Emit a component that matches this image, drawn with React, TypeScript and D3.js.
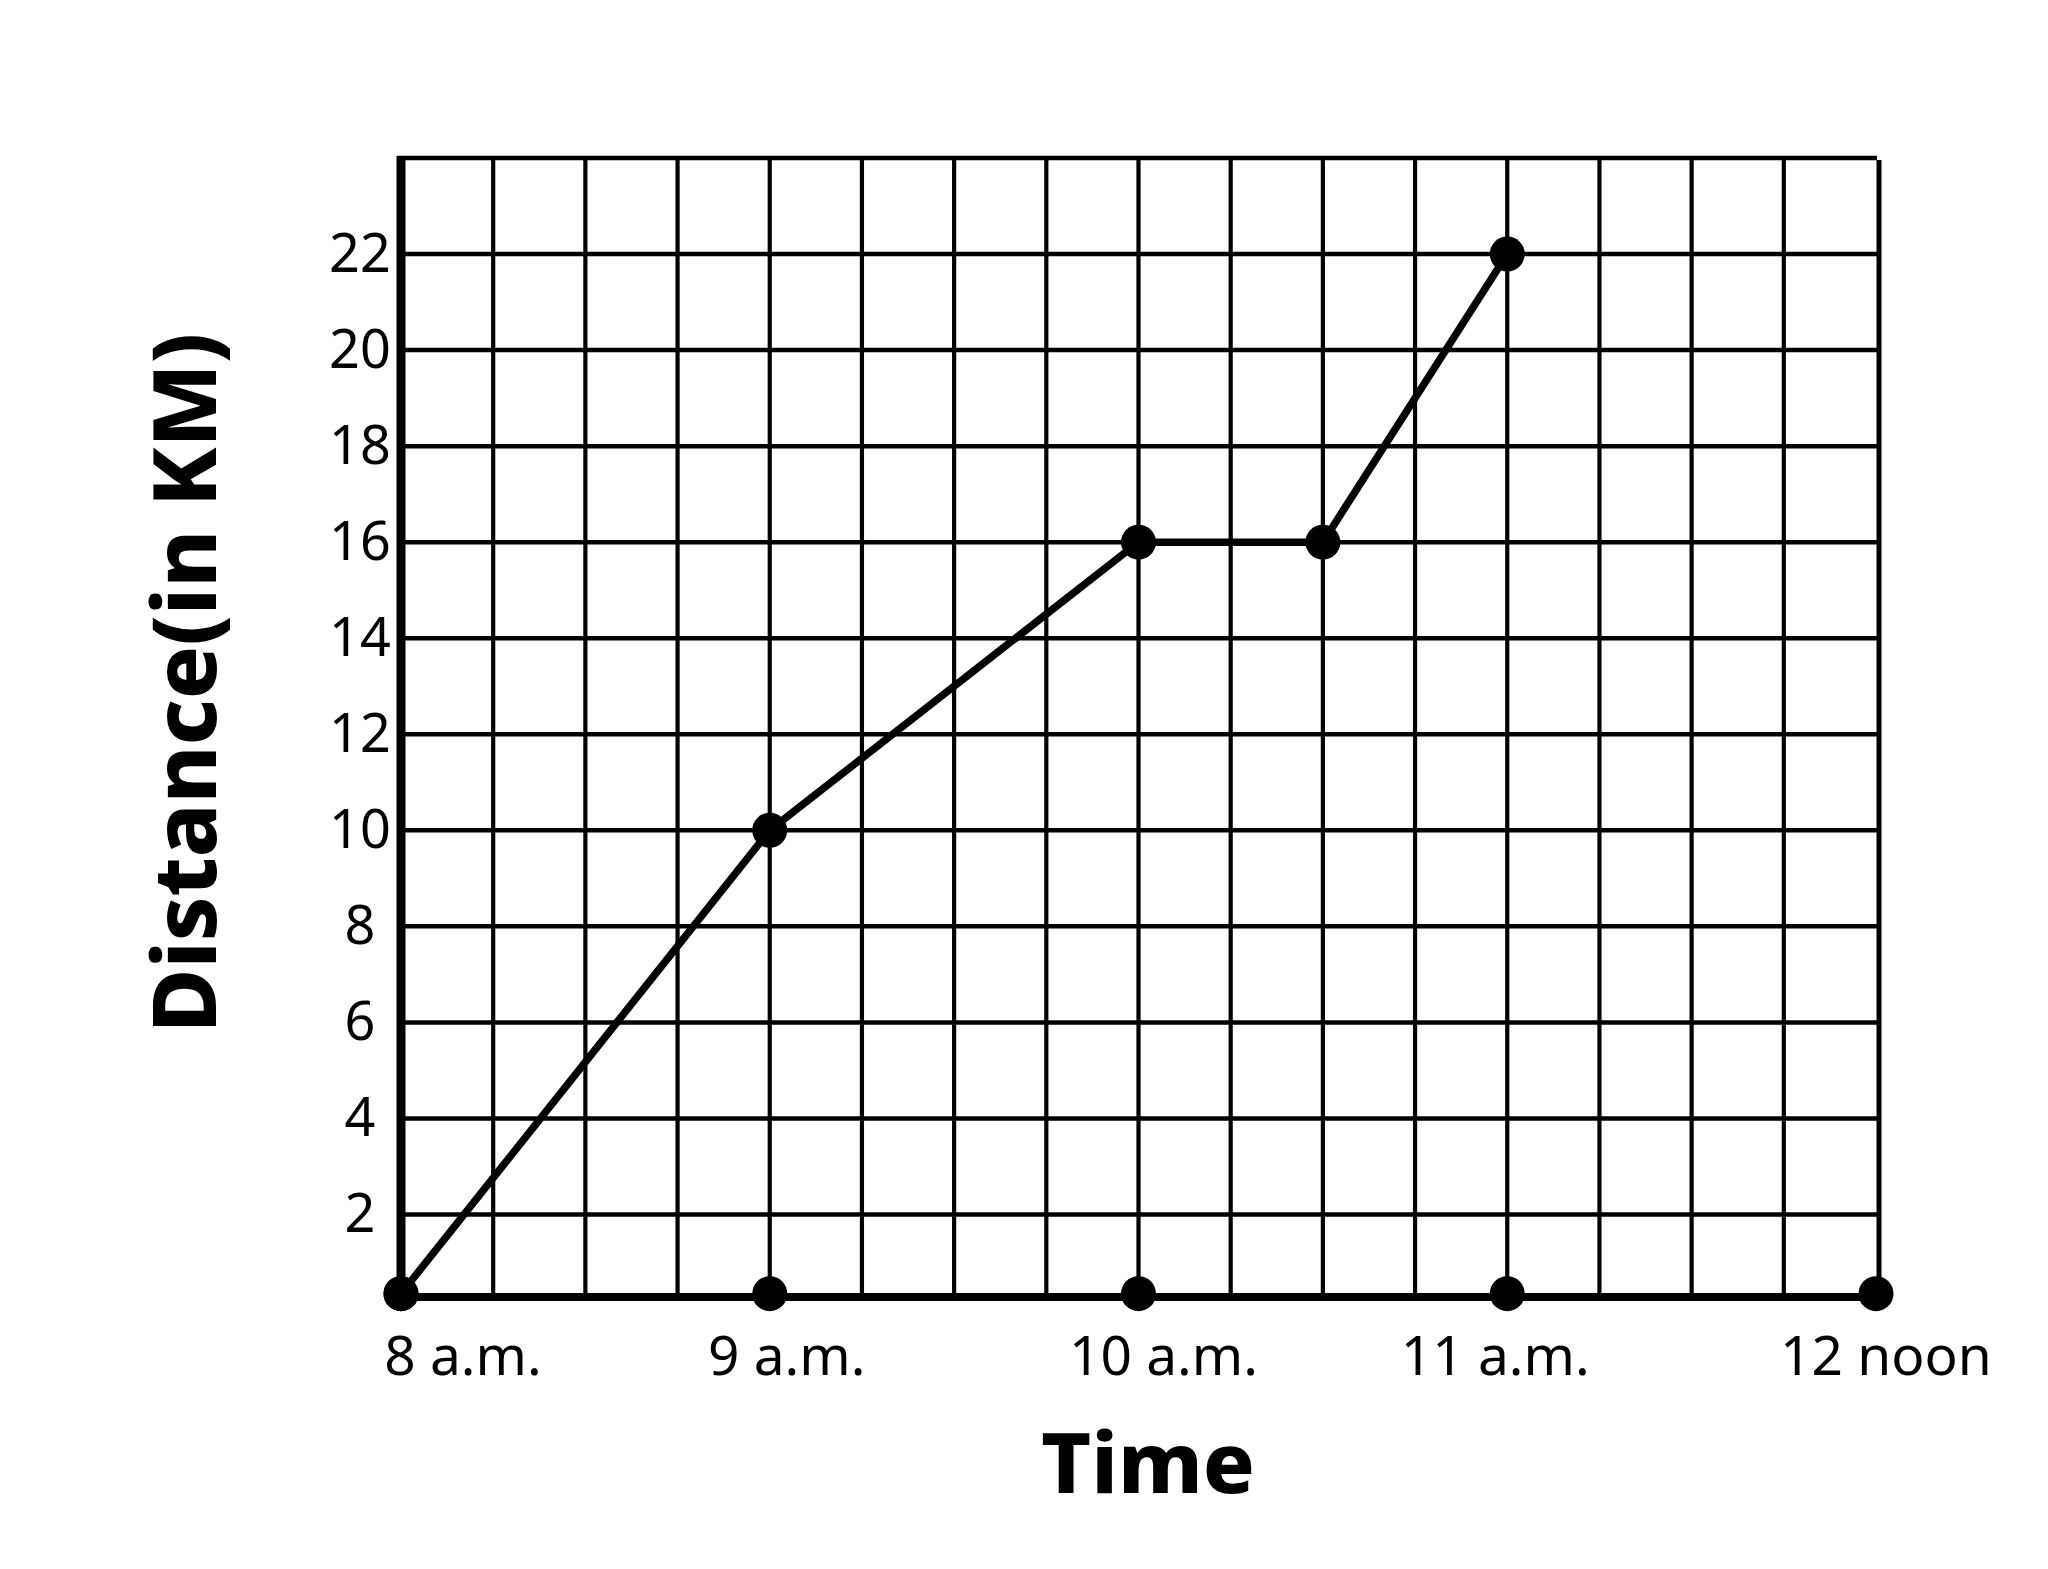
import React from "react";
import * as d3 from "d3";

const timeTicks = [8, 9, 10, 11, 12];
const timeLabels = ["8 a.m.", "9 a.m.", "10 a.m.", "11 a.m.", "12 noon"];
const distanceTicks = [2, 4, 6, 8, 10, 12, 14, 16, 18, 20, 22];
const tripTimes = [8, 9, 10, 10.5, 11];
const tripDistances = [0, 10, 16, 16, 22];
const baselineValue = 0.35;

const W = 2048;
const H = 1569;

export default function App() {
  const x = d3.scaleLinear().domain([8, 12]).range([401, 1876]);
  const y = d3.scaleLinear().domain([0, 24]).range([1310.5, 158]);
  const yVal = (d: number) => (d === 0 ? y(baselineValue) : y(d));
  const font = "'Noto Sans', 'Open Sans', sans-serif";

  const vGrid = d3.range(8.25, 12, 0.25);
  const line = d3
    .line<number>()
    .x((_, i) => x(tripTimes[i]))
    .y((d) => yVal(d));

  const labelDx = [62, 17, 25, -12, 10];
  const yBase = y(baselineValue);
  const yAxisY = y(0.28);

  return (
    <svg
      width={W}
      height={H}
      style={{ position: "absolute", left: 0, top: 0, background: "#fff" }}
    >
      <rect x={0} y={0} width={W} height={H} fill="#fff" />
      {/* vertical grid */}
      {vGrid.map((t) => (
        <line
          key={"v" + t}
          x1={x(t)}
          x2={x(t)}
          y1={y(24)}
          y2={yAxisY}
          stroke="#000"
          strokeWidth={4.2}
        />
      ))}
      {/* right border */}
      <line x1={x(12) + 3} x2={x(12) + 3} y1={y(24) + 2} y2={yBase} stroke="#000" strokeWidth={5} />
      {/* horizontal grid */}
      {distanceTicks.map((d) => (
        <line
          key={"h" + d}
          x1={x(8)}
          x2={x(12) + 3}
          y1={y(d)}
          y2={y(d)}
          stroke="#000"
          strokeWidth={4.5}
        />
      ))}
      {/* top border */}
      <line x1={x(8) - 4} x2={x(12) + 1} y1={y(24)} y2={y(24)} stroke="#000" strokeWidth={4.5} />
      {/* left axis */}
      <line x1={x(8)} x2={x(8)} y1={y(24) - 2} y2={yAxisY} stroke="#000" strokeWidth={9} />
      {/* bottom axis */}
      <line x1={x(8)} x2={x(12)} y1={yAxisY} y2={yAxisY} stroke="#000" strokeWidth={8} />

      {/* data line */}
      <path
        d={line(tripDistances) || ""}
        fill="none"
        stroke="#000"
        strokeWidth={7.5}
        strokeLinejoin="round"
      />
      {tripDistances.map((d, i) => (
        <circle key={"p" + i} cx={x(tripTimes[i])} cy={yVal(d)} r={17.5} fill="#000" />
      ))}
      {/* time axis dots */}
      {timeTicks.map((t) => (
        <circle key={"t" + t} cx={x(t)} cy={yBase} r={17.5} fill="#000" />
      ))}

      {/* y tick labels */}
      {distanceTicks.map((d) => (
        <text
          key={"yl" + d}
          x={360}
          y={y(d) + 18}
          textAnchor="middle"
          fontFamily={font}
          fontSize={54}
          fill="#000"
        >
          {d}
        </text>
      ))}
      {/* x tick labels */}
      {timeTicks.map((t, i) => (
        <text
          key={"xl" + t}
          x={x(t) + labelDx[i]}
          y={1375}
          textAnchor="middle"
          fontFamily={font}
          fontSize={55}
          fill="#000"
        >
          {timeLabels[i]}
        </text>
      ))}

      {/* axis titles */}
      <text
        x={1148}
        y={1493}
        textAnchor="middle"
        fontFamily={font}
        fontWeight={800}
        fontSize={84}
        textLength={214}
        lengthAdjust="spacingAndGlyphs"
        fill="#000"
      >
        Time
      </text>
      <text
        transform={`translate(216, 683) rotate(-90)`}
        textAnchor="middle"
        fontFamily={font}
        fontWeight={800}
        fontSize={88}
        textLength={700}
        lengthAdjust="spacingAndGlyphs"
        fill="#000"
      >
        Distance(in KM)
      </text>
    </svg>
  );
}
